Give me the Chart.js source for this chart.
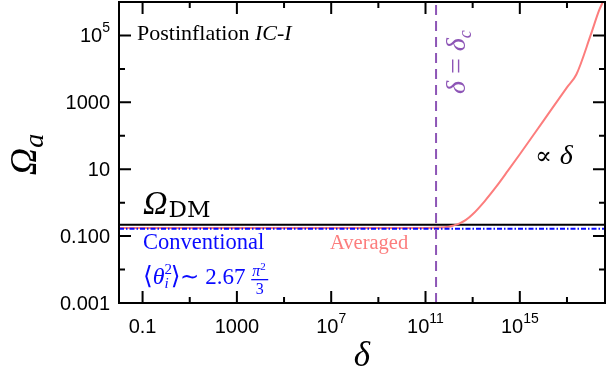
<!DOCTYPE html>
<html lang="en">
<head>
<meta charset="UTF-8">
<title>Omega_a vs delta</title>
<script src="https://cdn.jsdelivr.net/npm/chart.js"></script>
<style>
  html, body { margin: 0; padding: 0; background: #fff; }
  #grafico { display: block; }
</style>
</head>
<body>
<canvas id="grafico" width="607" height="381"></canvas>
<script>
  // averaged relic abundance
  var averagedDelta = [1e-2, 1e3, 1e9, 1e11, 1e12, 1.6e12, 2.8e12, 5e12, 1e13, 3.2e13, 1e14, 3.2e14, 1e15, 1e16, 1e17, 2.5e17, 1e18, 2.3e18, 3.3e18];
  var averagedOmega = [0.175, 0.175, 0.175, 0.176, 0.19, 0.21, 0.24, 0.3, 0.45, 1.1, 3.0, 9.2, 28, 280, 2800, 6800, 1e5, 5.6e5, 1e6];

  // horizontal / vertical reference lines
  var omegaDM = 0.22;
  var conventionalOmega = 0.165;
  var deltaC = 2.8e11;

  // axis range and ticks
  var xRange = [0.01, 4.1e18];
  var yRange = [0.001, 1e6];
  var xMajorTicks = [0.1, 1000, 1e7, 1e11, 1e15];
  var xTickLabels = [['0.1'], ['1000'], ['10', '7'], ['10', '11'], ['10', '15']];
  var xMinorTicks = [10, 1e5, 1e9, 1e13, 1e17];
  var yMajorTicks = [0.001, 0.1, 10, 1000, 1e5];
  var yTickLabels = [['0.001'], ['0.100'], ['10'], ['1000'], ['10', '5']];
  var yMinorTicks = [0.01, 1, 100, 1e4];

  var RED = 'rgb(252,125,125)';
  var BLUE = '#0a0aff';
  var PURPLE = '#8d55b6';

  function pts(xs, ys) {
    var out = [];
    for (var i = 0; i < xs.length; i++) out.push({ x: xs[i], y: ys[i] });
    return out;
  }

  // draw text pieces one after another, returns total width
  function runs(ctx, x, y, list, measureOnly) {
    var cx = x;
    for (var i = 0; i < list.length; i++) {
      var r = list[i];
      ctx.font = r.f;
      if (!measureOnly) ctx.fillText(r.t, cx + (r.dx || 0), y + (r.dy || 0));
      if (!r.noAdvance) cx += ctx.measureText(r.t).width + (r.dx || 0);
    }
    return cx - x;
  }

  var SANS = '20px "Liberation Sans", Arial, sans-serif';
  var SANS_SUP = '14px "Liberation Sans", Arial, sans-serif';
  var SERIF = '"Liberation Serif", serif';

  function tickRuns(lbl) {
    var r = [{ t: lbl[0], f: SANS }];
    if (lbl[1]) r.push({ t: lbl[1], f: SANS_SUP, dy: -10 });
    return r;
  }

  var framePlugin = {
    id: 'frame',
    afterDraw: function (chart) {
      var ctx = chart.ctx;
      var a = chart.chartArea;
      var xs = chart.scales.x, ys = chart.scales.y;
      ctx.save();
      ctx.strokeStyle = '#000';
      ctx.lineWidth = 2;
      ctx.strokeRect(a.left, a.top, a.right - a.left, a.bottom - a.top);

      function xTick(v, len) {
        var px = xs.getPixelForValue(v);
        ctx.beginPath();
        ctx.moveTo(px, a.bottom); ctx.lineTo(px, a.bottom - len);
        ctx.moveTo(px, a.top); ctx.lineTo(px, a.top + len);
        ctx.stroke();
      }
      function yTick(v, len) {
        var py = ys.getPixelForValue(v);
        ctx.beginPath();
        ctx.moveTo(a.left, py); ctx.lineTo(a.left + len, py);
        ctx.moveTo(a.right, py); ctx.lineTo(a.right - len, py);
        ctx.stroke();
      }
      xMajorTicks.forEach(function (v) { xTick(v, 12); });
      xMinorTicks.forEach(function (v) { xTick(v, 6); });
      yMajorTicks.forEach(function (v) { yTick(v, 12); });
      yMinorTicks.forEach(function (v) { yTick(v, 6); });

      // tick labels
      ctx.fillStyle = '#000';
      ctx.textBaseline = 'alphabetic';
      ctx.textAlign = 'left';
      xMajorTicks.forEach(function (v, i) {
        var r = tickRuns(xTickLabels[i]);
        var w = runs(ctx, 0, 0, r, true);
        runs(ctx, xs.getPixelForValue(v) - w / 2, 333, r);
      });
      yMajorTicks.forEach(function (v, i) {
        var r = tickRuns(yTickLabels[i]);
        var w = runs(ctx, 0, 0, r, true);
        runs(ctx, 110 - w, ys.getPixelForValue(v) + 7, r);
      });

      // axis titles
      ctx.font = 'italic 35px ' + SERIF;
      ctx.textAlign = 'center';
      ctx.fillText('\u03b4', (a.left + a.right) / 2, 366);
      ctx.textAlign = 'left';
      ctx.save();
      ctx.translate(36, (a.top + a.bottom) / 2 + 2);
      ctx.rotate(-Math.PI / 2);
      var yt = [{ t: '\u03a9', f: 'italic 38px ' + SERIF },
                { t: 'a', f: 'italic 28px ' + SERIF, dy: 7 }];
      var yw = runs(ctx, 0, 0, yt, true);
      runs(ctx, -yw / 2, 0, yt);
      ctx.restore();

      // annotations
      runs(ctx, 137, 40, [
        { t: 'Postinflation ', f: '22px ' + SERIF },
        { t: 'IC-I', f: 'italic 22px ' + SERIF }
      ]);
      runs(ctx, 143, 214, [
        { t: '\u03a9', f: 'italic 34px ' + SERIF },
        { t: 'DM', f: '23px "DejaVu Serif", serif', dx: 1, dy: 3 }
      ]);
      runs(ctx, 535, 164, [
        { t: '\u221d ', f: '25px "DejaVu Serif", serif' },
        { t: '\u03b4', f: 'italic 28px ' + SERIF }
      ]);

      ctx.fillStyle = BLUE;
      runs(ctx, 143, 249, [{ t: 'Conventional', f: '22.5px ' + SERIF }]);
      var fx = 143 + runs(ctx, 143, 284, [
        { t: '\u27e8', f: '25px "DejaVu Serif", serif' },
        { t: '\u03b8', f: 'italic 24px ' + SERIF },
        { t: '2', f: '15px ' + SERIF, dy: -10, noAdvance: true },
        { t: 'i', f: 'italic 15px ' + SERIF, dy: 4 },
        { t: '\u27e9', f: '25px "DejaVu Serif", serif', dx: 2 },
        { t: '\u223c 2.67 ', f: '23px ' + SERIF }
      ]);
      // fraction pi^2 / 3
      runs(ctx, fx + 1, 276, [
        { t: '\u03c0', f: 'italic 16px ' + SERIF },
        { t: '2', f: '11px ' + SERIF, dy: -6 }
      ]);
      ctx.fillRect(fx, 279, 17, 1.3);
      ctx.font = '16px ' + SERIF;
      ctx.fillText('3', fx + 4.5, 294);

      ctx.fillStyle = RED;
      runs(ctx, 330, 249, [{ t: 'Averaged', f: '20.5px ' + SERIF }]);

      ctx.fillStyle = PURPLE;
      ctx.save();
      ctx.translate(465, 94);
      ctx.rotate(-Math.PI / 2);
      runs(ctx, 0, 0, [
        { t: '\u03b4', f: 'italic 28px ' + SERIF },
        { t: ' = ', f: '28px ' + SERIF },
        { t: '\u03b4', f: 'italic 28px ' + SERIF },
        { t: 'c', f: 'italic 18px ' + SERIF, dy: 6 }
      ]);
      ctx.restore();
      ctx.restore();
    }
  };

  var data = {
    datasets: [
      {
        label: 'delta_c',
        data: pts([deltaC, deltaC], yRange),
        borderColor: PURPLE,
        borderWidth: 2,
        borderDash: [10, 6]
      },
      {
        label: 'Conventional',
        data: pts(xRange, [conventionalOmega, conventionalOmega]),
        borderColor: BLUE,
        borderWidth: 2,
        borderDash: [5, 2, 1.5, 2]
      },
      {
        label: 'Averaged',
        data: pts(averagedDelta, averagedOmega),
        borderColor: RED,
        borderWidth: 2,
        cubicInterpolationMode: 'monotone'
      },
      {
        label: 'Omega_DM',
        data: pts(xRange, [omegaDM, omegaDM]),
        borderColor: '#000',
        borderWidth: 2
      }
    ]
  };

  var config = {
    type: 'line',
    data: data,
    options: {
      responsive: false,
      animation: false,
      devicePixelRatio: 1,
      layout: { padding: { left: 119, right: 2, top: 2, bottom: 78 } },
      elements: { point: { radius: 0 } },
      scales: {
        x: { type: 'logarithmic', min: xRange[0], max: xRange[1], display: false },
        y: { type: 'logarithmic', min: yRange[0], max: yRange[1], display: false }
      },
      plugins: { legend: { display: false }, tooltip: { enabled: false } }
    },
    plugins: [framePlugin]
  };

  var grafico = new Chart(document.getElementById('grafico'), config);
</script>
</body>
</html>
